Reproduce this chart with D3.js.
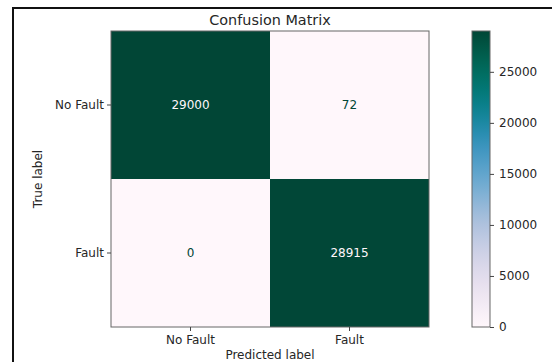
<!DOCTYPE html>
<html>
<head>
<meta charset="utf-8">
<script src="https://cdn.jsdelivr.net/npm/d3@7"></script>
<style>
  html, body { margin: 0; padding: 0; background: #fff; }
  svg { display: block; font-family: "DejaVu Sans", sans-serif; }
</style>
</head>
<body>
<svg id="chart" width="552" height="362"></svg>
<script>
// Class labels and the confusion counts (rows = true, columns = predicted)
const classLabels = ["No Fault", "Fault"];
const rowNoFault = [29000, 72];
const rowFault = [0, 28915];
const colorbarTicks = [0, 5000, 10000, 15000, 20000, 25000];

const matrix = [rowNoFault, rowFault];
const cells = [];
matrix.forEach((row, i) => row.forEach((v, j) => cells.push({ t: classLabels[i], p: classLabels[j], v })));

const svg = d3.select("#chart");
const W = 552, H = 362;

// outer frame
svg.append("rect")
  .attr("x", 13).attr("y", 8)
  .attr("width", W).attr("height", H)
  .attr("fill", "none").attr("stroke", "#111").attr("stroke-width", 2);

const plot = { left: 111, right: 429, top: 31, bottom: 327 };
const x = d3.scaleBand().domain(classLabels).range([plot.left, plot.right]);
const y = d3.scaleBand().domain(classLabels).range([plot.top, plot.bottom]);

const vmax = d3.max(cells, d => d.v);
const color = d3.scaleSequential(d3.interpolatePuBuGn).domain([0, vmax]);

// heatmap cells
svg.append("g").selectAll("rect").data(cells).join("rect")
  .attr("x", d => x(d.p)).attr("y", d => y(d.t))
  .attr("width", x.bandwidth()).attr("height", y.bandwidth())
  .attr("fill", d => color(d.v));

// cell values, light text on dark cells and vice versa
svg.append("g").selectAll("text").data(cells).join("text")
  .attr("x", d => x(d.p) + x.bandwidth() / 2)
  .attr("y", d => y(d.t) + y.bandwidth() / 2)
  .attr("dy", "0.35em")
  .attr("text-anchor", "middle")
  .attr("font-size", 12)
  .attr("fill", d => d.v > vmax / 2 ? color(0) : color(vmax))
  .text(d => d.v);

svg.append("rect")
  .attr("x", plot.left).attr("y", plot.top)
  .attr("width", plot.right - plot.left).attr("height", plot.bottom - plot.top)
  .attr("fill", "none").attr("stroke", "#666").attr("stroke-width", 1);

// axes
const xAxis = svg.append("g")
  .attr("transform", `translate(0,${plot.bottom})`)
  .call(d3.axisBottom(x).tickSize(4).tickPadding(4));
const yAxis = svg.append("g")
  .attr("transform", `translate(${plot.left},0)`)
  .call(d3.axisLeft(y).tickSize(4).tickPadding(3));
[xAxis, yAxis].forEach(g => {
  g.select(".domain").remove();
  g.selectAll("line").attr("stroke", "#444");
  g.selectAll("text").attr("font-size", 12).attr("fill", "#262626").attr("font-family", "DejaVu Sans");
});

// titles
svg.append("text").attr("x", (plot.left + plot.right) / 2).attr("y", 25)
  .attr("text-anchor", "middle").attr("font-size", 14.4).attr("fill", "#262626")
  .text("Confusion Matrix");
svg.append("text").attr("x", (plot.left + plot.right) / 2).attr("y", 359)
  .attr("text-anchor", "middle").attr("font-size", 12).attr("fill", "#262626")
  .text("Predicted label");
svg.append("text")
  .attr("transform", `translate(42,${(plot.top + plot.bottom) / 2}) rotate(-90)`)
  .attr("text-anchor", "middle").attr("font-size", 12).attr("fill", "#262626")
  .text("True label");

// colorbar
const cb = { left: 472, width: 18 };
const cy = d3.scaleLinear().domain([0, vmax]).range([plot.bottom, plot.top]);
const grad = svg.append("defs").append("linearGradient")
  .attr("id", "cbgrad").attr("x1", 0).attr("y1", 1).attr("x2", 0).attr("y2", 0);
d3.range(0, 1.0001, 0.05).forEach(t => {
  grad.append("stop").attr("offset", t).attr("stop-color", color(t * vmax));
});
svg.append("rect")
  .attr("x", cb.left).attr("y", plot.top)
  .attr("width", cb.width).attr("height", plot.bottom - plot.top)
  .attr("fill", "url(#cbgrad)").attr("stroke", "#666").attr("stroke-width", 1);
const cAxis = svg.append("g")
  .attr("transform", `translate(${cb.left + cb.width},0)`)
  .call(d3.axisRight(cy).tickValues(colorbarTicks).tickFormat(d3.format("d")).tickSize(4).tickPadding(5));
cAxis.select(".domain").remove();
cAxis.selectAll("line").attr("stroke", "#444");
cAxis.selectAll("text").attr("font-size", 12).attr("fill", "#262626").attr("font-family", "DejaVu Sans");
</script>
</body>
</html>
